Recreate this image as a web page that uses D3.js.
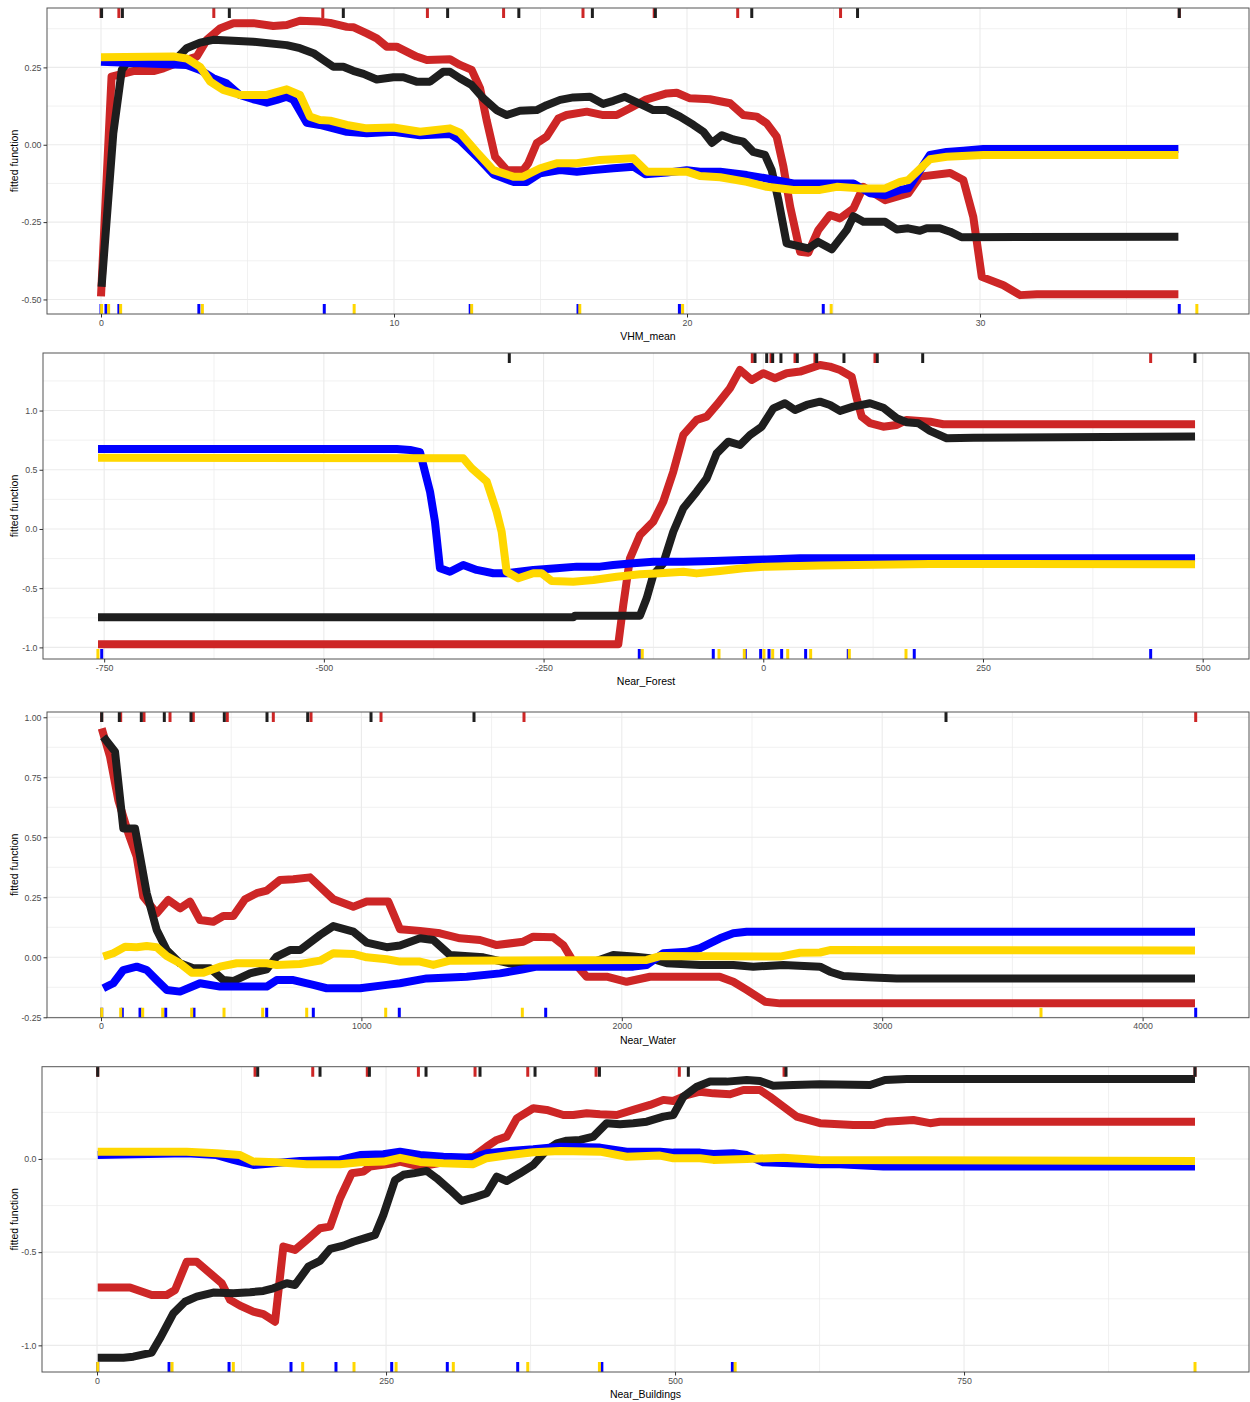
<!DOCTYPE html>
<html>
<head>
<meta charset="utf-8">
<script src="https://cdn.jsdelivr.net/npm/d3@7"></script>
<style>
  body { margin: 0; background: #ffffff; }
  svg { display: block; }
</style>
</head>
<body>
<svg id="fig" width="1250" height="1402"></svg>
<script>
// ---------- Partial dependence curves: [predictor value, fitted function] ----------

// VHM_mean
const vhmRed = [[0,-0.49],[0.36,0.22],[1.10,0.238],[1.79,0.238],[2.13,0.247],[2.70,0.268],[3.27,0.285],[3.61,0.339],[4.06,0.376],[4.52,0.393],[5.20,0.393],[5.88,0.384],[6.34,0.387],[6.79,0.401],[7.47,0.398],[7.82,0.394],[8.39,0.381],[8.61,0.380],[9.07,0.360],[9.41,0.344],[9.75,0.317],[10.09,0.317],[10.77,0.285],[11.12,0.274],[11.91,0.276],[12.25,0.258],[12.65,0.242],[12.94,0.182],[13.16,0.080],[13.45,-0.039],[13.85,-0.082],[14.41,-0.082],[14.58,-0.060],[14.87,0.005],[15.21,0.026],[15.61,0.085],[15.89,0.096],[16.58,0.107],[17.14,0.096],[17.60,0.096],[18.05,0.118],[18.57,0.145],[19.31,0.166],[19.65,0.168],[20.10,0.150],[20.78,0.147],[21.47,0.134],[21.92,0.096],[22.38,0.091],[22.72,0.069],[23.06,0.026],[23.29,-0.071],[23.52,-0.200],[23.86,-0.346],[24.14,-0.349],[24.48,-0.276],[24.88,-0.227],[25.22,-0.238],[25.68,-0.206],[26.02,-0.136],[26.76,-0.179],[27.55,-0.157],[27.95,-0.103],[28.98,-0.091],[29.43,-0.114],[29.77,-0.233],[30.06,-0.427],[30.80,-0.454],[31.37,-0.486],[31.94,-0.483],[36.77,-0.483]];
const vhmBlack = [[0.02,-0.459],[0.42,0.037],[0.71,0.242],[0.87,0.263],[2.47,0.268],[2.92,0.312],[3.38,0.330],[3.83,0.339],[4.52,0.336],[5.20,0.333],[6.34,0.322],[6.79,0.312],[7.25,0.296],[7.59,0.274],[7.93,0.252],[8.27,0.252],[8.61,0.239],[8.96,0.229],[9.41,0.211],[9.98,0.218],[10.32,0.218],[10.77,0.204],[11.23,0.204],[11.68,0.236],[11.91,0.236],[12.25,0.215],[12.65,0.193],[13.05,0.150],[13.50,0.112],[13.85,0.096],[14.30,0.110],[14.87,0.112],[15.21,0.128],[15.67,0.145],[16.12,0.153],[16.69,0.155],[17.14,0.132],[17.49,0.142],[17.88,0.155],[18.40,0.132],[18.85,0.112],[19.31,0.112],[19.76,0.091],[20.22,0.064],[20.56,0.042],[20.85,0.006],[21.19,0.031],[21.58,0.017],[21.92,0.010],[22.26,-0.023],[22.66,-0.033],[22.89,-0.082],[23.12,-0.179],[23.40,-0.319],[24.14,-0.335],[24.48,-0.314],[24.94,-0.338],[25.45,-0.276],[25.68,-0.231],[26.02,-0.249],[26.76,-0.249],[27.16,-0.274],[27.55,-0.270],[27.95,-0.278],[28.18,-0.270],[28.63,-0.270],[28.98,-0.281],[29.37,-0.299],[36.77,-0.297]];
const vhmBlue = [[0,0.268],[2.92,0.258],[3.38,0.242],[3.83,0.215],[4.28,0.199],[4.74,0.161],[5.20,0.147],[5.66,0.136],[6.00,0.145],[6.34,0.155],[6.57,0.145],[7.02,0.071],[7.47,0.064],[7.93,0.053],[8.39,0.042],[9.07,0.037],[9.98,0.042],[10.89,0.031],[11.91,0.035],[12.25,0.015],[12.94,-0.049],[13.39,-0.095],[14.07,-0.120],[14.53,-0.120],[14.99,-0.092],[15.67,-0.082],[16.24,-0.087],[16.80,-0.082],[17.49,-0.076],[18.17,-0.071],[18.57,-0.095],[19.31,-0.090],[19.99,-0.082],[20.44,-0.087],[21.13,-0.087],[22.04,-0.098],[22.72,-0.109],[23.63,-0.125],[25.68,-0.125],[26.25,-0.157],[26.76,-0.163],[27.27,-0.146],[27.55,-0.141],[28.29,-0.033],[28.86,-0.023],[29.43,-0.019],[30.11,-0.014],[36.77,-0.014]];
const vhmGold = [[0,0.283],[2.47,0.285],[2.92,0.279],[3.38,0.252],[3.73,0.204],[4.17,0.177],[4.74,0.161],[5.66,0.161],[6.34,0.179],[6.79,0.161],[7.13,0.091],[7.47,0.080],[7.82,0.078],[8.39,0.064],[9.07,0.053],[9.98,0.056],[10.89,0.042],[11.91,0.053],[12.25,0.039],[12.82,-0.023],[13.39,-0.082],[14.07,-0.103],[14.41,-0.103],[14.99,-0.076],[15.55,-0.060],[16.24,-0.060],[17.03,-0.049],[18.17,-0.044],[18.63,-0.087],[19.99,-0.087],[20.44,-0.101],[21.13,-0.105],[22.04,-0.120],[22.72,-0.136],[23.63,-0.146],[24.54,-0.146],[25.11,-0.136],[25.90,-0.141],[26.76,-0.141],[27.27,-0.120],[27.55,-0.114],[28.29,-0.047],[28.86,-0.039],[30.11,-0.033],[36.77,-0.033]];
const vhmRugRed = [0,0.61,3.85,7.57,11.14,13.74,16.45,18.88,21.73,25.24,36.8];
const vhmRugBlack = [0.02,0.73,4.38,8.27,11.83,14.26,16.77,18.92,22.21,25.82,36.8];
const vhmRugBlue = [0,0.17,0.61,3.34,7.62,12.60,16.28,19.74,24.65,36.8];
const vhmRugGold = [0.02,0.26,0.67,3.46,8.64,12.65,16.34,19.85,24.92,37.4];

// Near_Forest
const forestRed = [[-757,-0.974],[-165,-0.974],[-159.3,-0.642],[-151.7,-0.248],[-140.3,-0.051],[-125.2,0.062],[-113.8,0.231],[-102.4,0.484],[-91.0,0.794],[-75.8,0.921],[-64.4,0.949],[-53.0,1.047],[-37.9,1.188],[-26.5,1.343],[-13.2,1.258],[0,1.315],[13.3,1.273],[26.6,1.315],[41.8,1.329],[64.5,1.385],[75.9,1.371],[87.3,1.343],[100.6,1.286],[106.3,1.104],[112.0,0.949],[121.4,0.893],[136.5,0.864],[151.8,0.878],[163.2,0.921],[189.7,0.906],[204.8,0.884],[491.3,0.884]];
const forestBlack = [[-757,-0.746],[-216.2,-0.746],[-214.3,-0.732],[-140.3,-0.732],[-132.7,-0.585],[-125.2,-0.389],[-113.8,-0.290],[-102.4,-0.023],[-91.0,0.175],[-75.8,0.315],[-64.4,0.428],[-53.0,0.639],[-39.8,0.737],[-26.5,0.709],[-15.1,0.794],[-1.8,0.864],[11.4,1.019],[24.7,1.062],[36.1,1.005],[49.4,1.047],[64.5,1.075],[75.9,1.047],[87.3,0.997],[102.4,1.033],[121.4,1.062],[136.5,1.024],[151.8,0.935],[163.2,0.901],[176.4,0.893],[189.7,0.828],[208.7,0.766],[239.0,0.771],[491.3,0.780]];
const forestBlue = [[-757,0.676],[-417,0.676],[-402,0.667],[-390.6,0.648],[-379.2,0.315],[-373.6,0.062],[-367.9,-0.332],[-356.5,-0.361],[-341.4,-0.304],[-326.1,-0.346],[-307.2,-0.374],[-292.0,-0.374],[-261.7,-0.346],[-235.1,-0.332],[-212.3,-0.318],[-185.9,-0.318],[-170.7,-0.304],[-147.9,-0.290],[-125.2,-0.276],[-91.0,-0.276],[-56.9,-0.270],[-22.8,-0.262],[3.9,-0.257],[41.8,-0.248],[491.3,-0.248]];
const forestGold = [[-757,0.602],[-341.4,0.597],[-331.8,0.513],[-314.7,0.400],[-303.4,0.146],[-297.7,-0.023],[-292.0,-0.361],[-278.8,-0.416],[-261.7,-0.374],[-252.2,-0.374],[-240.8,-0.439],[-216.2,-0.445],[-193.4,-0.431],[-166.8,-0.403],[-140.3,-0.383],[-117.5,-0.374],[-91.0,-0.361],[-75.8,-0.375],[-49.3,-0.355],[-22.8,-0.332],[3.9,-0.318],[64.5,-0.309],[189.7,-0.295],[491.3,-0.298]];
const forestRugRed = [-12.5,8.8,36.1,58.8,127.1,440.8];
const forestRugBlack = [-289.0,-9.4,3.9,10.7,20.1,38.7,60.8,91.8,129.7,181.4,491.2];
const forestRugBlue = [-752.8,-141.1,-56.9,-20.5,-3.0,6.5,20.9,48.2,96.7,171.8,440.8];
const forestRugGold = [-757.1,-137.7,-50.4,-21.6,0.8,10.7,27.8,53.9,97.9,162.4];

// Near_Water
const waterRed = [[2.7,0.954],[34.6,0.836],[66.4,0.655],[104.8,0.517],[137.1,0.419],[162.4,0.253],[213.9,0.183],[258.5,0.239],[303.4,0.204],[341.8,0.232],[380.2,0.155],[431.3,0.148],[469.7,0.172],[508.1,0.172],[553.0,0.242],[597.9,0.267],[636.3,0.278],[687.4,0.322],[738.5,0.325],[802.6,0.333],[892.1,0.242],[968.9,0.211],[1020.3,0.232],[1103.3,0.232],[1148.2,0.117],[1225.0,0.110],[1301.8,0.100],[1378.6,0.079],[1455.4,0.072],[1519.6,0.051],[1621.7,0.065],[1660.1,0.086],[1736.9,0.083],[1775.3,0.051],[1813.7,-0.018],[1865.2,-0.081],[1942.0,-0.081],[2018.8,-0.102],[2108.3,-0.081],[2210.8,-0.081],[2376,-0.081],[2428.2,-0.102],[2479.6,-0.136],[2549.9,-0.185],[2607.5,-0.192],[4201.2,-0.192]];
const waterBlack = [[8.8,0.919],[53.8,0.857],[85.6,0.537],[130.6,0.537],[175.5,0.267],[213.9,0.114],[252.3,0.030],[303.4,-0.025],[354.5,-0.046],[418.6,-0.046],[469.7,-0.095],[508.1,-0.099],[572.2,-0.067],[636.3,-0.050],[674.7,0.003],[725.8,0.030],[764.2,0.030],[841.0,0.093],[892.1,0.130],[968.9,0.107],[1020.3,0.061],[1097.2,0.042],[1148.2,0.049],[1225.0,0.079],[1276.1,0.072],[1340.2,0.010],[1468.2,0.0],[1596.4,-0.032],[1724.3,-0.036],[1877.9,-0.025],[1967.3,0.010],[2044.2,0.003],[2108.3,-0.004],[2172.4,-0.025],[2300.3,-0.032],[2428.2,-0.032],[2505.0,-0.039],[2620.2,-0.032],[2761,-0.039],[2799.5,-0.060],[2850.6,-0.078],[2940.5,-0.083],[3055.7,-0.088],[4201.2,-0.088]];
const waterBlue = [[8.8,-0.129],[47.2,-0.108],[85.6,-0.053],[137.1,-0.039],[175.5,-0.053],[213.9,-0.095],[252.3,-0.136],[303.4,-0.143],[380.2,-0.108],[457.0,-0.122],[636.3,-0.122],[674.7,-0.095],[738.5,-0.095],[815.4,-0.115],[866.7,-0.129],[994.6,-0.129],[1097.2,-0.115],[1148.2,-0.108],[1250.8,-0.088],[1404.4,-0.081],[1532.3,-0.067],[1621.7,-0.050],[1673.2,-0.039],[2044.2,-0.039],[2095.6,-0.032],[2159.4,0.017],[2249.2,0.023],[2300.3,0.038],[2377.1,0.079],[2428.2,0.100],[2479.6,0.106],[4201.2,0.106]];
const waterGold = [[8.8,0.003],[47.2,0.017],[92.2,0.044],[137.1,0.042],[175.5,0.047],[213.9,0.042],[252.3,0.005],[303.4,-0.025],[348.3,-0.064],[393.1,-0.064],[457.0,-0.039],[521.1,-0.025],[636.3,-0.025],[674.7,-0.032],[764.2,-0.028],[841.0,-0.014],[892.1,0.017],[968.9,0.014],[1020.3,0.0],[1097.2,-0.008],[1148.2,-0.018],[1225.0,-0.018],[1276.1,-0.032],[1340.2,-0.014],[2095.6,-0.011],[2146.7,0.005],[2607.5,0.003],[2684.3,0.019],[2761,0.020],[2799.5,0.030],[4201.2,0.028]];
const waterRugRed = [2.7,75.6,165.1,265,354.5,485,661.7,806.5,1075.3,1624.4,4203.9];
const waterRugBlack = [2.7,70.3,154.8,243.1,345.6,473.5,637.5,793.8,1036.9,1432.4,3245];
const waterRugBlue = [2.7,81.8,149.8,248.5,357.1,636.3,815.3,1145.5,1707.7,4203.9];
const waterRugGold = [2.7,75.6,160.1,236.9,348.3,472.4,620.9,789.9,1093.3,1618,3609.8];

// Near_Buildings
const bldgRed = [[0.6,-0.690],[28.5,-0.690],[47.3,-0.730],[60.3,-0.730],[67.5,-0.703],[77.6,-0.551],[86.2,-0.551],[96.3,-0.605],[107.9,-0.667],[115.1,-0.756],[123.7,-0.787],[135.2,-0.819],[143.9,-0.833],[154.0,-0.873],[161.2,-0.470],[171.3,-0.488],[181.4,-0.435],[192.9,-0.372],[201.6,-0.363],[210.2,-0.211],[220.3,-0.077],[230.4,-0.068],[236.2,-0.041],[256.3,-0.023],[262.1,-0.014],[279.4,-0.041],[325.5,0.012],[337.1,0.066],[345.8,0.102],[354.4,0.120],[363.1,0.218],[377.4,0.272],[389.0,0.263],[403.4,0.236],[412.0,0.236],[423.6,0.245],[435.1,0.240],[449.6,0.236],[463.9,0.263],[478.4,0.290],[489.9,0.317],[498.5,0.311],[510.1,0.343],[521.6,0.361],[533.1,0.352],[547.6,0.347],[559.1,0.370],[573.5,0.370],[582.2,0.334],[593.7,0.281],[605.3,0.227],[625.4,0.192],[654.2,0.182],[671.5,0.182],[683.1,0.200],[706.1,0.209],[720.6,0.192],[729.2,0.200],[949.8,0.200]];
const bldgBlack = [[0.6,-1.066],[22.8,-1.066],[31.4,-1.061],[47.3,-1.039],[54.5,-0.962],[66.0,-0.828],[76.1,-0.766],[86.2,-0.739],[100.6,-0.717],[117.9,-0.721],[132.4,-0.715],[143.9,-0.708],[152.5,-0.694],[164.1,-0.667],[171.3,-0.676],[182.8,-0.578],[192.9,-0.547],[201.6,-0.483],[213.1,-0.465],[221.7,-0.444],[233.3,-0.422],[240.5,-0.408],[247.7,-0.300],[257.8,-0.113],[265.0,-0.085],[273.6,-0.077],[285.2,-0.064],[293.9,-0.104],[305.4,-0.166],[315.5,-0.225],[325.5,-0.208],[337.1,-0.184],[345.8,-0.095],[354.4,-0.118],[365.9,-0.077],[377.4,-0.032],[389.0,0.048],[397.7,0.084],[406.3,0.098],[417.8,0.102],[429.3,0.120],[440.9,0.192],[452.4,0.186],[463.9,0.192],[475.5,0.200],[489.9,0.227],[498.5,0.236],[507.2,0.334],[518.8,0.388],[530.3,0.415],[544.7,0.415],[562.0,0.424],[573.5,0.418],[585.0,0.393],[602.3,0.397],[625.4,0.401],[668.7,0.397],[681.7,0.424],[700.4,0.429],[949.8,0.429]];
const bldgBlue = [[0.6,0.021],[77.6,0.031],[103.5,0.021],[117.9,-0.005],[135.2,-0.032],[175.6,-0.011],[210.2,-0.005],[227.5,0.021],[247.7,0.025],[262.1,0.039],[279.4,0.021],[299.6,0.012],[325.5,0.007],[337.1,0.031],[357.3,0.043],[377.4,0.052],[400.5,0.066],[435.1,0.061],[458.2,0.039],[487.0,0.039],[498.5,0.034],[521.6,0.034],[533.1,0.027],[550.4,0.031],[562.0,0.021],[576.4,-0.018],[599.5,-0.023],[625.4,-0.028],[642.7,-0.028],[680.2,-0.041],[949.8,-0.041]];
const bldgGold = [[0.6,0.039],[77.6,0.039],[103.5,0.031],[123.7,0.021],[135.2,-0.014],[155.4,-0.018],[181.4,-0.028],[210.2,-0.028],[227.5,-0.018],[247.7,-0.014],[262.1,0.006],[279.4,-0.016],[299.6,-0.023],[325.5,-0.028],[337.1,0.004],[357.3,0.021],[377.4,0.036],[400.5,0.043],[435.1,0.039],[458.2,0.012],[487.0,0.018],[498.5,0.004],[521.6,0.004],[533.1,-0.005],[562.0,0.0],[593.7,0.007],[625.4,-0.005],[949.8,-0.011]];
const bldgRugRed = [0.6,136.7,186.6,233.8,278.0,327.0,372.6,431.7,503.7,594.3,949.8];
const bldgRugBlack = [0.6,139.0,192.9,235.6,284.6,331.3,378.9,434.6,511.5,596.0,949.8];
const bldgRugBlue = [0.6,62.3,114.2,167.8,206.7,254.9,303.0,363.9,436.7,549.6];
const bldgRugGold = [0.6,64.9,117.9,177.9,222.3,258.7,308.2,372.6,434.6,552.0,949.8];

// Axis ticks
const vhmXTicks = [0, 10, 20, 30];
const vhmYTicks = [-0.5, -0.25, 0, 0.25];
const forestXTicks = [-750, -500, -250, 0, 250, 500];
const forestYTicks = [-1, -0.5, 0, 0.5, 1];
const waterXTicks = [0, 1000, 2000, 3000, 4000];
const waterYTicks = [-0.25, 0, 0.25, 0.5, 0.75, 1];
const bldgXTicks = [0, 250, 500, 750];
const bldgYTicks = [-1, -0.5, 0];

// ---------- Styling ----------
const colors = { red: "#CD2626", black: "#1E1E1E", blue: "#0000FF", gold: "#FFD700" };
const lineOrder = ["red", "black", "blue", "gold"];

const fmt = spec => v => d3.format(spec)(v).replace("\u2212", "-");

const panels = [
  { name: "VHM_mean", box: [47, 8, 1249, 314], xDomain: [-1.843, 39.18], yDomain: [-0.547, 0.442],
    xTicks: vhmXTicks, yTicks: vhmYTicks, xStep: 10, yStep: 0.25, xFmt: fmt("d"), yFmt: fmt(".2f"),
    lines: { red: vhmRed, black: vhmBlack, blue: vhmBlue, gold: vhmGold },
    rugTop: { red: vhmRugRed, black: vhmRugBlack }, rugBottom: { blue: vhmRugBlue, gold: vhmRugGold } },
  { name: "Near_Forest", box: [43, 353, 1249, 659], xDomain: [-819.6, 552.7], yDomain: [-1.098, 1.486],
    xTicks: forestXTicks, yTicks: forestYTicks, xStep: 250, yStep: 0.5, xFmt: fmt("d"), yFmt: fmt(".1f"),
    lines: { red: forestRed, black: forestBlack, blue: forestBlue, gold: forestGold },
    rugTop: { red: forestRugRed, black: forestRugBlack }, rugBottom: { blue: forestRugBlue, gold: forestRugGold } },
  { name: "Near_Water", box: [47, 712, 1249, 1017.7], xDomain: [-207.4, 4408.6], yDomain: [-0.2517, 1.022],
    xTicks: waterXTicks, yTicks: waterYTicks, xStep: 1000, yStep: 0.25, xFmt: fmt("d"), yFmt: fmt(".2f"),
    lines: { red: waterRed, black: waterBlack, blue: waterBlue, gold: waterGold },
    rugTop: { red: waterRugRed, black: waterRugBlack }, rugBottom: { blue: waterRugBlue, gold: waterRugGold } },
  { name: "Near_Buildings", box: [42, 1066.7, 1249, 1372], xDomain: [-47.6, 996.5], yDomain: [-1.143, 0.495],
    xTicks: bldgXTicks, yTicks: bldgYTicks, xStep: 250, yStep: 0.5, xFmt: fmt("d"), yFmt: fmt(".1f"),
    lines: { red: bldgRed, black: bldgBlack, blue: bldgBlue, gold: bldgGold },
    rugTop: { red: bldgRugRed, black: bldgRugBlack }, rugBottom: { blue: bldgRugBlue, gold: bldgRugGold } }
];

const svg = d3.select("#fig");
svg.append("rect").attr("width", 1250).attr("height", 1402).attr("fill", "#ffffff");

const FONT = "'Liberation Sans', Arial, sans-serif";

panels.forEach((p, i) => {
  const [x0, y0, x1, y1] = p.box;
  const x = d3.scaleLinear().domain(p.xDomain).range([x0, x1]);
  const y = d3.scaleLinear().domain(p.yDomain).range([y1, y0]);
  const g = svg.append("g");

  // minor grid: midpoints between major breaks
  const minorX = d3.range(Math.ceil(p.xDomain[0] / p.xStep - 0.5) + 0.5, p.xDomain[1] / p.xStep, 1)
    .map(k => k * p.xStep).filter(v => v > p.xDomain[0] && v < p.xDomain[1]);
  const minorY = d3.range(Math.ceil(p.yDomain[0] / p.yStep - 0.5) + 0.5, p.yDomain[1] / p.yStep, 1)
    .map(k => k * p.yStep).filter(v => v > p.yDomain[0] && v < p.yDomain[1]);

  const grid = g.append("g").attr("stroke", "#EBEBEB").attr("fill", "none");
  grid.selectAll("line.mx").data(minorX).join("line")
    .attr("x1", d => x(d)).attr("x2", d => x(d)).attr("y1", y0).attr("y2", y1).attr("stroke-width", 0.7);
  grid.selectAll("line.my").data(minorY).join("line").attr("class", "my")
    .attr("x1", x0).attr("x2", x1).attr("y1", d => y(d)).attr("y2", d => y(d)).attr("stroke-width", 0.7);
  grid.selectAll("line.Mx").data(p.xTicks).join("line").attr("class", "Mx")
    .attr("x1", d => x(d)).attr("x2", d => x(d)).attr("y1", y0).attr("y2", y1).attr("stroke-width", 1.1);
  grid.selectAll("line.My").data(p.yTicks).join("line").attr("class", "My")
    .attr("x1", x0).attr("x2", x1).attr("y1", d => y(d)).attr("y2", d => y(d)).attr("stroke-width", 1.1);

  // clip to the panel
  const clipId = "clip" + i;
  svg.append("clipPath").attr("id", clipId).append("rect")
    .attr("x", x0).attr("y", y0).attr("width", x1 - x0).attr("height", y1 - y0);
  const plot = g.append("g").attr("clip-path", `url(#${clipId})`);

  const line = d3.line().x(d => x(d[0])).y(d => y(d[1]));
  lineOrder.forEach(k => {
    plot.append("path").datum(p.lines[k]).attr("d", line)
      .attr("fill", "none").attr("stroke", colors[k]).attr("stroke-width", 8)
      .attr("stroke-linejoin", "round").attr("stroke-linecap", "butt");
  });

  // rugs
  const rugLen = 10;
  Object.entries(p.rugTop).forEach(([k, vals]) => {
    plot.selectAll(null).data(vals).join("line")
      .attr("x1", d => x(d)).attr("x2", d => x(d)).attr("y1", y0).attr("y2", y0 + rugLen)
      .attr("stroke", colors[k]).attr("stroke-width", 3);
  });
  Object.entries(p.rugBottom).forEach(([k, vals]) => {
    plot.selectAll(null).data(vals).join("line")
      .attr("x1", d => x(d)).attr("x2", d => x(d)).attr("y1", y1 - rugLen).attr("y2", y1)
      .attr("stroke", colors[k]).attr("stroke-width", 3);
  });

  // panel border
  g.append("rect").attr("x", x0).attr("y", y0).attr("width", x1 - x0).attr("height", y1 - y0)
    .attr("fill", "none").attr("stroke", "#555555").attr("stroke-width", 1);

  // axes
  const xAxis = d3.axisBottom(x).tickValues(p.xTicks).tickFormat(p.xFmt).tickSize(3.5).tickPadding(2);
  const yAxis = d3.axisLeft(y).tickValues(p.yTicks).tickFormat(p.yFmt).tickSize(3.5).tickPadding(2);
  const gx = g.append("g").attr("transform", `translate(0,${y1})`).call(xAxis);
  const gy = g.append("g").attr("transform", `translate(${x0},0)`).call(yAxis);
  [gx, gy].forEach(a => {
    a.select(".domain").remove();
    a.selectAll(".tick line").attr("stroke", "#333333").attr("stroke-width", 1);
    a.selectAll(".tick text").attr("fill", "#4D4D4D").attr("font-family", FONT).attr("font-size", 8.8);
  });

  // titles
  g.append("text").attr("x", (x0 + x1) / 2).attr("y", y1 + 26)
    .attr("text-anchor", "middle").attr("font-family", FONT).attr("font-size", 10.5)
    .attr("fill", "#000").text(p.name);
  g.append("text")
    .attr("transform", `translate(18,${(y0 + y1) / 2}) rotate(-90)`)
    .attr("text-anchor", "middle").attr("font-family", FONT).attr("font-size", 10.5)
    .attr("fill", "#000").text("fitted function");
});
</script>
</body>
</html>
